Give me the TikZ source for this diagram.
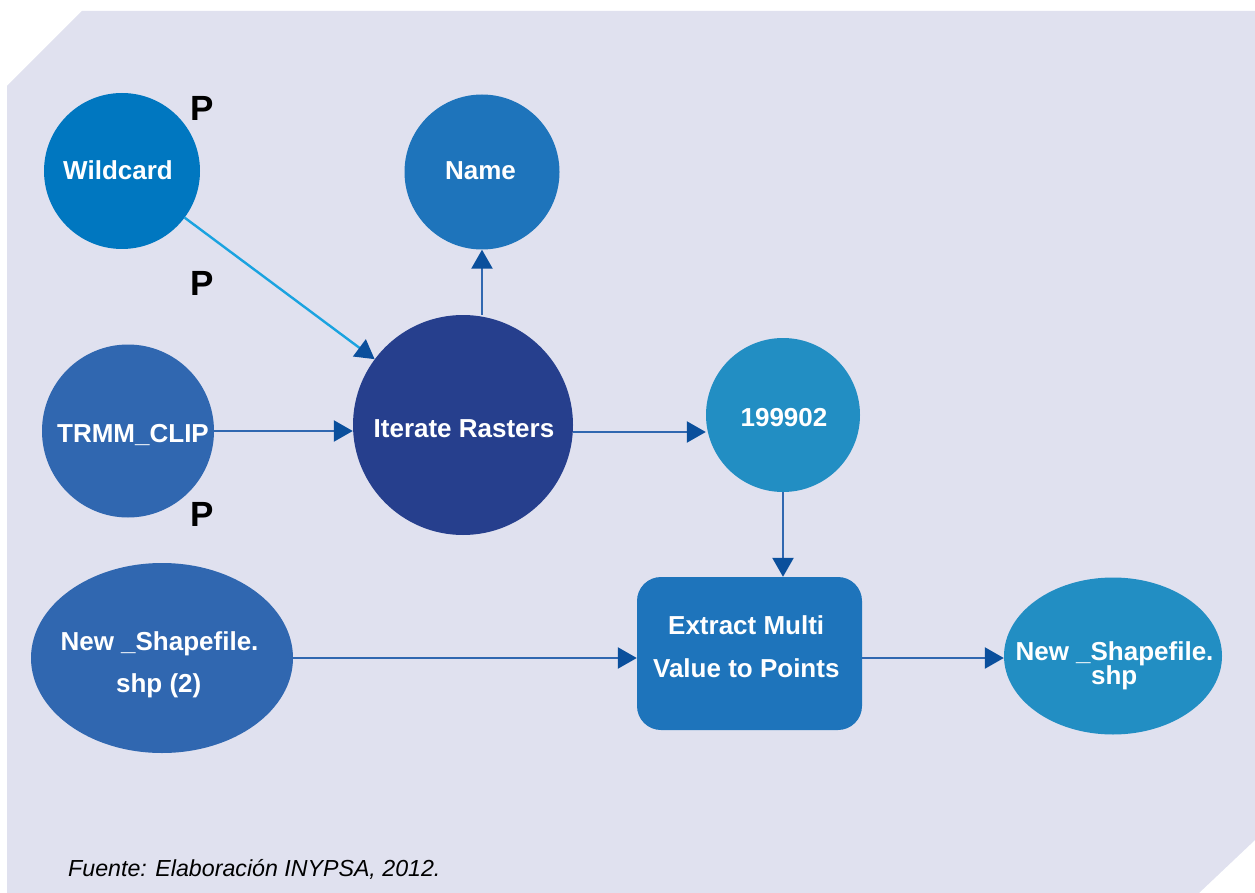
\documentclass[tikz,border=0pt]{standalone}
\usepackage{fontspec}
\setmainfont{Liberation Sans}
\usetikzlibrary{shapes.geometric,arrows.meta}

\definecolor{panel}{HTML}{E0E1EF}
\definecolor{cWild}{HTML}{0077C0}
\definecolor{cName}{HTML}{1E74BB}
\definecolor{cMid}{HTML}{3067B0}
\definecolor{cIter}{HTML}{263F8D}
\definecolor{cLight}{HTML}{228EC3}
\definecolor{cLine}{HTML}{3067B0}
\definecolor{cCyan}{HTML}{1AA3E0}
\definecolor{cTip}{HTML}{0A4F9C}

% a line of text in a zero-size box: centred horizontally at dx,
% baseline raised by dy, so the shape keeps exactly its own size
\newcommand\placetext[3]{\makebox[0pt]{\hspace*{#1}\hspace*{#1}\raisebox{#2}[0pt][0pt]{#3}}}

\tikzset{
  blob/.style={ellipse, inner sep=0pt, text=white,
    font=\fontsize{26}{30}\selectfont\bfseries},
  toolbox/.style={rectangle, rounded corners=24pt, inner sep=0pt, text=white,
    font=\fontsize{26}{30}\selectfont\bfseries},
  flag/.style={font=\fontsize{35}{35}\selectfont\bfseries, text=black, inner sep=0pt},
  link/.style={draw=cLine, line width=2.4pt,
    -{Triangle[length=19pt, width=21pt, color=cTip]}},
  linkcyan/.style={link, draw=cCyan},
}

\begin{document}
\begin{tikzpicture}[x=1pt, y=-1pt]
  \useasboundingbox (0,0) rectangle (1255,893);

  % background panel with clipped corners
  \fill[panel] (82,11) -- (1255,11) -- (1255,840) -- (1199,893)
               -- (7,893) -- (7,86) -- cycle;

  % model elements
  \node[blob, fill=cWild, minimum width=156pt, minimum height=156pt] (wild) at (122,171)
    {\placetext{-4pt}{-9pt}{Wildcard}};
  \node[blob, fill=cName, minimum width=155pt, minimum height=155pt] (name) at (482,172)
    {\placetext{-1.5pt}{-7.3pt}{Name}};
  \node[blob, fill=cMid, minimum width=172pt, minimum height=173pt] (trmm) at (128,431)
    {\placetext{5pt}{-11.7pt}{TRMM\_CLIP}};
  \node[blob, fill=cIter, minimum width=220pt, minimum height=220pt] (iter) at (463,425)
    {\placetext{1pt}{-12.3pt}{Iterate Rasters}};
  \node[blob, fill=cLight, minimum width=154pt, minimum height=154pt] (year) at (783,415)
    {\placetext{1pt}{-11.3pt}{199902}};
  \node[blob, fill=cMid, minimum width=262pt, minimum height=190pt] (shpin) at (162,658)
    {\placetext{-2.5pt}{8pt}{New \_Shapefile.}\placetext{-3.3pt}{-34.7pt}{shp (2)}};
  \node[toolbox, fill=cName, minimum width=225pt, minimum height=153pt] (extract) at (749.5,653.5)
    {\placetext{-3.3pt}{19.5pt}{Extract Multi}\placetext{-3.2pt}{-23.8pt}{Value to Points}};
  \node[blob, fill=cLight, minimum width=218pt, minimum height=157pt] (shpout) at (1113,656)
    {\placetext{1.5pt}{-4.7pt}{New \_Shapefile.}\placetext{1.2pt}{-28.3pt}{shp}};

  % parameter markers
  \node[flag] (p1) at (202,108) {P};
  \node[flag] (p2) at (202,283) {P};
  \node[flag] (p3) at (202,514) {P};

  % connectors
  \draw[linkcyan] (wild) -- (iter);
  \draw[link] (iter.north -| name.south) -- (name.south);
  \draw[link] (trmm.east) -- (trmm.east -| iter.west);
  \draw[link] ([yshift=-7pt]iter.east) -- ([yshift=-7pt]iter.east -| year.west);
  \draw[link] (year.south) -- (year.south |- extract.north);
  \draw[link] (shpin.east) -- (shpin.east -| extract.west);
  \draw[link] (shpin.east -| extract.east) -- (shpin.east -| shpout.west);

  % source note
  \node[anchor=base west, inner sep=0pt, font=\fontsize{23.2}{23.2}\selectfont\itshape] (src)
    at (68,876) {Fuente: Elaboración INYPSA, 2012.};
\end{tikzpicture}
\end{document}
